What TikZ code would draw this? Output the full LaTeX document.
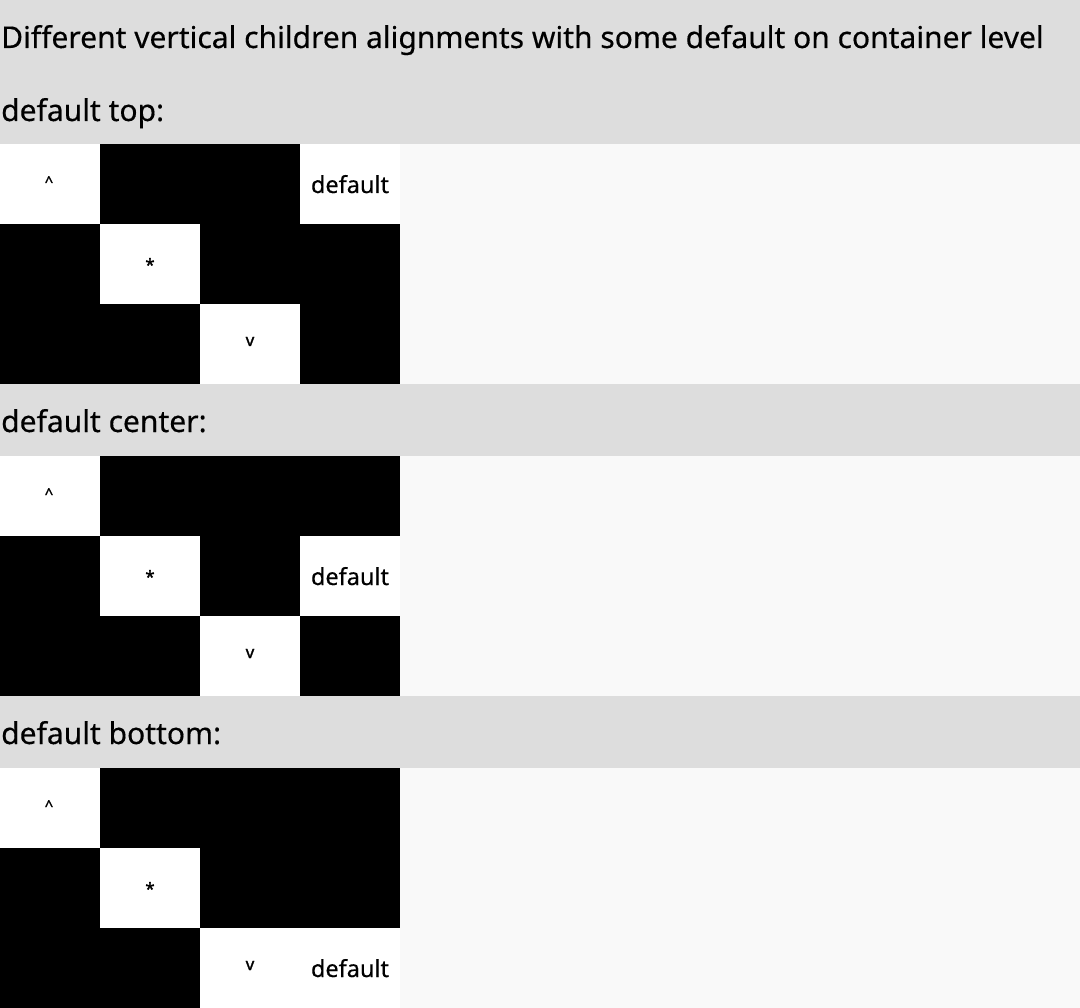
\documentclass[tikz,border=0pt]{standalone}
\usepackage{fontspec}
\setmainfont{Noto Sans}[FakeBold=0.35]
\newfontfamily\symfont{Noto Sans}[FakeBold=1.4]
\definecolor{band}{HTML}{DDDDDD}
\definecolor{pane}{HTML}{F9F9F9}
\begin{document}
\begin{tikzpicture}[x=1pt,y=-1pt,
  lbl/.style={anchor=base west,inner sep=0,font=\fontsize{30}{36}\selectfont},
  celltext/.style={anchor=base,inner sep=0,font=\fontsize{23.5}{28}\selectfont},
  sym/.style={anchor=base,inner sep=0,font=\symfont\fontsize{17}{20}\selectfont},
  caret/.style={anchor=base,inner sep=0,font=\symfont\fontsize{15}{18}\selectfont},
  whitecell/.style={fill=white},
  blackcell/.style={fill=black}]
\useasboundingbox (0,0) rectangle (1080,1008);
% bands
\fill[band] (0,0) rectangle (1080,144);
\fill[band] (0,384) rectangle (1080,456);
\fill[band] (0,696) rectangle (1080,768);
% right panes
\fill[pane] (400,144) rectangle (1080,384);
\fill[pane] (400,456) rectangle (1080,696);
\fill[pane] (400,768) rectangle (1080,1008);
% grid 1
\fill[blackcell] (0,144) rectangle (400,384);
\fill[whitecell] (0,144) rectangle (100,224);
\fill[whitecell] (300,144) rectangle (400,224);
\fill[whitecell] (100,224) rectangle (200,304);
\fill[whitecell] (200,304) rectangle (300,384);
% grid 2
\fill[blackcell] (0,456) rectangle (400,696);
\fill[whitecell] (0,456) rectangle (100,536);
\fill[whitecell] (100,536) rectangle (200,616);
\fill[whitecell] (300,536) rectangle (400,616);
\fill[whitecell] (200,616) rectangle (300,696);
% grid 3
\fill[blackcell] (0,768) rectangle (400,1008);
\fill[whitecell] (0,768) rectangle (100,848);
\fill[whitecell] (100,848) rectangle (200,928);
\fill[whitecell] (200,928) rectangle (400,1008);
% labels
\node[lbl] (title) at (1,48) {Different vertical children alignments with some default on container level};
\node[lbl] (ltop) at (1,121) {default top:};
\node[lbl] (lcenter) at (1,432) {default center:};
\node[lbl] (lbottom) at (1,744) {default bottom:};
% grid 1 texts
\node[caret] (a1) at (49,187) {\^{}};
\node[sym] (b1) at (150,271) {*};
\node[sym] (c1) at (250,346) {v};
\node[celltext] (d1) at (350,193) {default};
% grid 2 texts
\node[caret] (a2) at (49,499) {\^{}};
\node[sym] (b2) at (150,583) {*};
\node[sym] (c2) at (250,658) {v};
\node[celltext] (d2) at (350,585) {default};
% grid 3 texts
\node[caret] (a3) at (49,811) {\^{}};
\node[sym] (b3) at (150,895) {*};
\node[sym] (c3) at (250,970) {v};
\node[celltext] (d3) at (350,977) {default};
\end{tikzpicture}
\end{document}
